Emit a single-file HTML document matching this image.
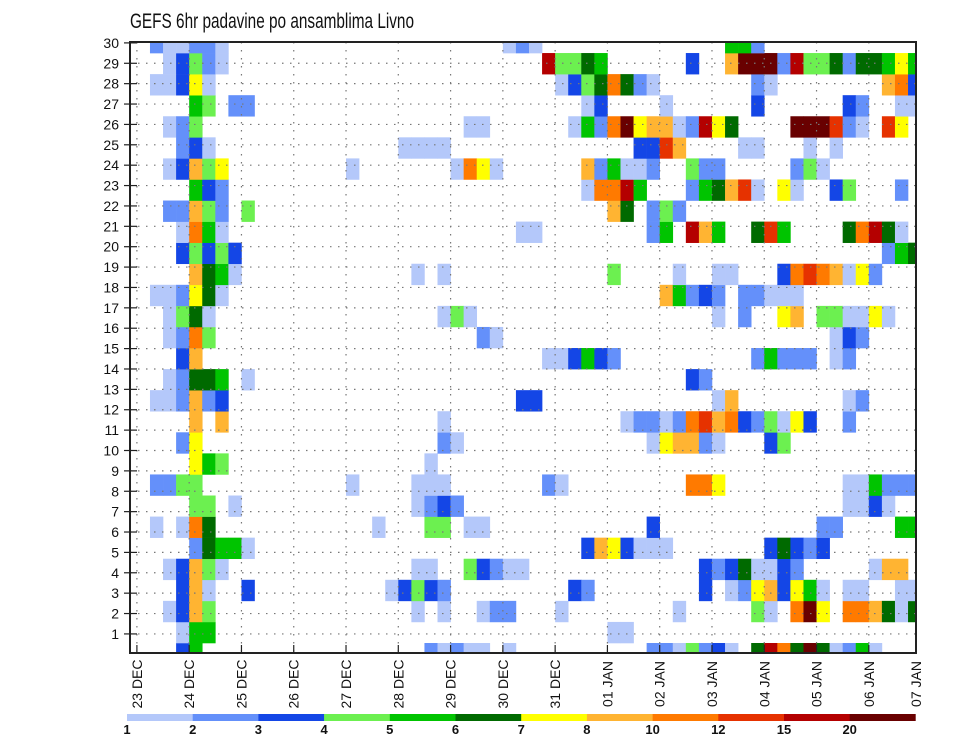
<!DOCTYPE html>
<html>
<head>
<meta charset="utf-8">
<style>
  html, body { margin: 0; padding: 0; background: #ffffff; }
  svg { display: block; font-family: "Liberation Sans", "DejaVu Sans", sans-serif; }
</style>
</head>
<body>
<svg id="chart" width="960" height="742" viewBox="0 0 960 742" xmlns="http://www.w3.org/2000/svg">
  <rect x="0" y="0" width="960" height="742" fill="#ffffff"/>
  <text x="130" y="28" font-size="21" fill="#111" textLength="284" lengthAdjust="spacingAndGlyphs">GEFS 6hr padavine po ansamblima Livno</text>
  <defs>
    <clipPath id="plotClip"><rect x="130" y="42" width="786" height="611"/></clipPath>
  </defs>
  <g id="cells" clip-path="url(#plotClip)"></g>
  <g id="grid"></g>
  <rect x="130" y="42" width="786" height="611" fill="none" stroke="#222" stroke-width="2"/>
  <g id="yaxis"></g>
  <g id="xaxis"></g>
  <g id="colorbar"></g>
</svg>
<script>
// ---- data ----
const dateLabels = ["23 DEC","24 DEC","25 DEC","26 DEC","27 DEC","28 DEC","29 DEC","30 DEC","31 DEC","01 JAN","02 JAN","03 JAN","04 JAN","05 JAN","06 JAN","07 JAN"];
const memberLabels = [1,2,3,4,5,6,7,8,9,10,11,12,13,14,15,16,17,18,19,20,21,22,23,24,25,26,27,28,29,30];
const levelBounds = [1,2,3,4,5,6,7,8,10,12,15,20];
const levelColors = ["#b4c8fa","#6490fa","#1446e6","#6cf050","#00c400","#006a00","#ffff00","#ffb432","#ff7a00","#e63200","#b40000","#690000"];
// precipitation per ensemble row (row 0 = bottom), "timeIndex:mm" pairs, 6-hourly steps from 23 DEC 00Z
const row00 = "3:3.5 4:5.5 22:2.5 23:1.5 24:2.5 25:1.5 26:1.5 28:1.5 39:2.5 40:2.5 41:1.5 42:4.5 43:2.5 44:3.5 45:1.5 47:6.5 48:17 49:11 50:6.5 51:25 52:6.5 53:1.5 54:2.5 55:5.5 56:1.5";
const row01 = "3:1.5 4:5.5 5:5.5 36:1.5 37:1.5";
const row02 = "2:1.5 3:3.5 4:9 5:4.5 21:1.5 23:1.5 26:1.5 27:2.5 28:2.5 32:1.5 41:1.5 47:4.5 48:1.5 50:11 51:25 52:7.5 54:11 55:11 56:9 57:6.5 58:1.5 59:6.5";
const row03 = "3:3.5 4:9 5:1.5 8:3.5 19:1.5 20:3.5 21:4.5 22:3.5 23:2.5 33:3.5 34:2.5 43:3.5 45:1.5 46:2.5 47:7.5 48:9 49:3.5 50:7.5 51:5.5 52:1.5 54:1.5 55:1.5 58:1.5 59:1.5";
const row04 = "2:1.5 3:3.5 4:9 5:4.5 6:1.5 21:1.5 22:1.5 25:4.5 26:3.5 27:2.5 28:1.5 29:1.5 43:3.5 44:2.5 45:3.5 46:6.5 47:1.5 48:1.5 49:3.5 50:2.5 56:1.5 57:9 58:9";
const row05 = "4:2.5 5:6.5 6:5.5 7:5.5 8:1.5 34:3.5 35:9 36:7.5 37:3.5 38:1.5 39:1.5 40:1.5 48:3.5 49:6.5 50:3.5 51:2.5 52:3.5";
const row06 = "1:1.5 3:1.5 4:11 5:6.5 18:1.5 22:4.5 23:4.5 25:1.5 26:1.5 39:3.5 52:2.5 53:2.5 58:5.5 59:5.5";
const row07 = "4:4.5 5:4.5 7:1.5 21:1.5 22:2.5 23:3.5 24:2.5 54:1.5 55:1.5 56:3.5 57:1.5";
const row08 = "1:2.5 2:2.5 3:4.5 4:4.5 16:1.5 21:1.5 22:1.5 23:1.5 31:2.5 32:1.5 42:11 43:11 44:7.5 54:1.5 55:1.5 56:5.5 57:2.5 58:2.5 59:2.5";
const row09 = "4:7.5 5:5.5 6:4.5 22:1.5";
const row10 = "3:2.5 4:7.5 23:2.5 24:1.5 39:1.5 40:7.5 41:9 42:9 43:2.5 44:1.5 48:3.5 49:4.5";
const row11 = "4:9 6:9 23:1.5 37:1.5 38:2.5 39:2.5 40:1.5 41:2.5 42:11 43:13 44:9 45:11 46:3.5 47:2.5 48:4.5 49:1.5 50:7.5 51:3.5 54:2.5";
const row12 = "1:1.5 2:1.5 3:2.5 4:9 5:2.5 6:3.5 29:3.5 30:3.5 44:1.5 45:9 54:1.5 55:2.5";
const row13 = "2:1.5 3:2.5 4:6.5 5:6.5 6:5.5 8:1.5 42:3.5 43:2.5";
const row14 = "3:3.5 4:9 31:1.5 32:1.5 33:3.5 34:5.5 35:3.5 36:2.5 47:2.5 48:5.5 49:2.5 50:2.5 51:2.5 53:1.5 54:2.5";
const row15 = "2:1.5 3:2.5 4:11 5:4.5 26:2.5 27:1.5 53:1.5 54:3.5 55:2.5";
const row16 = "2:1.5 3:4.5 4:6.5 5:1.5 23:1.5 24:4.5 25:1.5 44:1.5 46:2.5 49:7.5 50:9 52:4.5 53:4.5 54:1.5 55:1.5 56:7.5 57:1.5";
const row17 = "1:1.5 2:1.5 3:2.5 4:7.5 5:6.5 6:1.5 40:9 41:5.5 42:2.5 43:3.5 44:2.5 46:2.5 47:2.5 48:1.5 49:1.5 50:1.5";
const row18 = "4:9 5:6.5 6:5.5 7:1.5 21:1.5 23:1.5 36:4.5 41:1.5 44:1.5 45:1.5 49:3.5 50:11 51:13 52:11 53:9 54:1.5 55:7.5 56:2.5";
const row19 = "3:3.5 4:4.5 5:3.5 6:4.5 7:3.5 57:2.5 58:5.5 59:6.5";
const row20 = "3:1.5 4:11 5:5.5 6:1.5 29:1.5 30:1.5 39:2.5 40:5.5 42:17 43:9 44:5.5 47:6.5 48:13 49:5.5 54:6.5 55:11 56:17 57:6.5 58:1.5";
const row21 = "2:2.5 3:2.5 4:9 5:4.5 6:2.5 8:4.5 36:9 37:6.5 39:2.5 40:4.5 41:2.5";
const row22 = "4:5.5 5:3.5 6:2.5 34:1.5 35:11 36:11 37:17 38:5.5 42:2.5 43:5.5 44:6.5 45:9 46:13 47:1.5 49:7.5 50:1.5 53:3.5 54:4.5 58:2.5";
const row23 = "2:1.5 3:3.5 4:9 5:4.5 6:7.5 16:1.5 24:1.5 25:11 26:7.5 27:1.5 34:9 35:2.5 36:5.5 37:1.5 38:1.5 39:2.5 42:4.5 43:2.5 44:2.5 50:2.5 51:4.5 52:1.5";
const row24 = "3:2.5 4:3.5 5:1.5 20:1.5 21:1.5 22:1.5 23:1.5 38:3.5 39:3.5 40:13 41:9 46:1.5 47:1.5 51:1.5 53:1.5";
const row25 = "2:1.5 3:2.5 4:4.5 25:1.5 26:1.5 33:1.5 34:5.5 35:2.5 36:11 37:25 38:7.5 39:9 40:9 41:1.5 42:2.5 43:17 44:7.5 45:6.5 50:25 51:25 52:25 53:13 54:2.5 55:1.5 57:13 58:7.5";
const row26 = "4:5.5 5:4.5 7:2.5 8:2.5 34:1.5 35:3.5 40:1.5 47:3.5 54:3.5 55:2.5 58:1.5 59:1.5";
const row27 = "1:1.5 2:1.5 3:3.5 4:7.5 5:1.5 32:1.5 33:3.5 34:4.5 35:6.5 36:11 37:6.5 38:2.5 39:1.5 47:2.5 48:1.5 57:9 58:11 59:3.5";
const row28 = "2:1.5 3:3.5 4:4.5 5:2.5 6:1.5 31:17 32:4.5 33:4.5 34:6.5 35:5.5 42:3.5 45:9 46:25 47:25 48:25 49:2.5 50:17 51:4.5 52:4.5 53:6.5 54:2.5 55:6.5 56:6.5 57:5.5 58:7.5 59:5.5";
const row29 = "1:2.5 2:1.5 3:1.5 4:2.5 5:2.5 6:1.5 28:1.5 29:2.5 30:1.5 45:5.5 46:5.5 47:2.5";
const memberRows = [row00,row01,row02,row03,row04,row05,row06,row07,row08,row09,row10,row11,row12,row13,row14,row15,row16,row17,row18,row19,row20,row21,row22,row23,row24,row25,row26,row27,row28,row29];

// ---- scales ----
const NS = "http://www.w3.org/2000/svg";
const plotL = 130, plotR = 916, plotT = 42, plotB = 653;
const x0 = 136.9, stepW = 13.07;          // 6-hour step width
const dayW = stepW * 4;
const cellH = 21.07, row0Top = 643;
function xOf(t) { return x0 + t * stepW; }
function rowTop(j) { return row0Top - j * cellH; }
function yTick(r) { return 42.9 + (30 - r) * 20.38; }
function colorFor(v) {
  let idx = -1;
  for (let i = 0; i < levelBounds.length; i++) { if (v >= levelBounds[i]) idx = i; }
  return idx < 0 ? null : levelColors[idx];
}
function mk(tag, attrs, parent) {
  const e = document.createElementNS(NS, tag);
  for (const k in attrs) e.setAttribute(k, attrs[k]);
  parent.appendChild(e);
  return e;
}

// ---- cells ----
const gCells = document.getElementById("cells");
memberRows.forEach((rowStr, j) => {
  rowStr.trim().split(/\s+/).forEach(pair => {
    const p = pair.split(":");
    const t = +p[0], v = +p[1];
    const c = colorFor(v);
    if (!c) return;
    const r = mk("rect", { x: xOf(t).toFixed(2), y: rowTop(j).toFixed(2), width: (stepW + 0.3).toFixed(2), height: (cellH + 0.3).toFixed(2), fill: c }, gCells);
    
    
  });
});

// ---- grid ----
const gGrid = document.getElementById("grid");
memberLabels.forEach(r => {
  if (r === 30) return;
  const y = yTick(r);
  const l = mk("line", { x1: plotL, x2: plotR, y1: y, y2: y, stroke: "#777", "stroke-width": 1.2, "stroke-dasharray": "1.5 6.5" }, gGrid);
  
  
});
for (let d = 0; d < dateLabels.length - 1; d++) {
  const x = x0 + d * dayW;
  const l = mk("line", { x1: x, x2: x, y1: plotT, y2: plotB, stroke: "#777", "stroke-width": 1.2, "stroke-dasharray": "1.5 6.5" }, gGrid);
  
  
}

// ---- y axis ----
const gY = document.getElementById("yaxis");
memberLabels.forEach(r => {
  const y = yTick(r);
  const tk = mk("line", { x1: 124, x2: 137, y1: y, y2: y, stroke: "#222", "stroke-width": 1.2 }, gY);
  
  
  const tx = mk("text", { x: 119, y: y + 5, "font-size": 14, "text-anchor": "end", fill: "#111" }, gY);
  tx.textContent = r;
  
  
});

// ---- x axis ----
const gX = document.getElementById("xaxis");
dateLabels.forEach((lab, d) => {
  let x = x0 + d * dayW;
  if (x > plotR) x = plotR;
  const tk = mk("line", { x1: x, x2: x, y1: 645, y2: 653, stroke: "#222", "stroke-width": 1.2 }, gX);
  
  
  const tx = mk("text", { x: 0, y: 0, "font-size": 14, "text-anchor": "middle", fill: "#111", transform: "translate(" + (x + 5).toFixed(1) + ",684) rotate(-90)" }, gX);
  tx.textContent = lab;
  
  
});

// ---- colorbar ----
const gCB = document.getElementById("colorbar");
const cbL = 127, cbW = 65.7, cbT = 714, cbH = 7;
levelColors.forEach((c, i) => {
  const r = mk("rect", { x: (cbL + i * cbW).toFixed(2), y: cbT, width: (cbW + 0.3).toFixed(2), height: cbH, fill: c }, gCB);
  
  
});
levelBounds.forEach((b, i) => {
  const t = mk("text", { x: (cbL + i * cbW).toFixed(2), y: 734, "font-size": 13, "font-weight": "bold", "text-anchor": "middle", fill: "#111" }, gCB);
  t.textContent = b;
  
  
});
</script>
</body>
</html>
